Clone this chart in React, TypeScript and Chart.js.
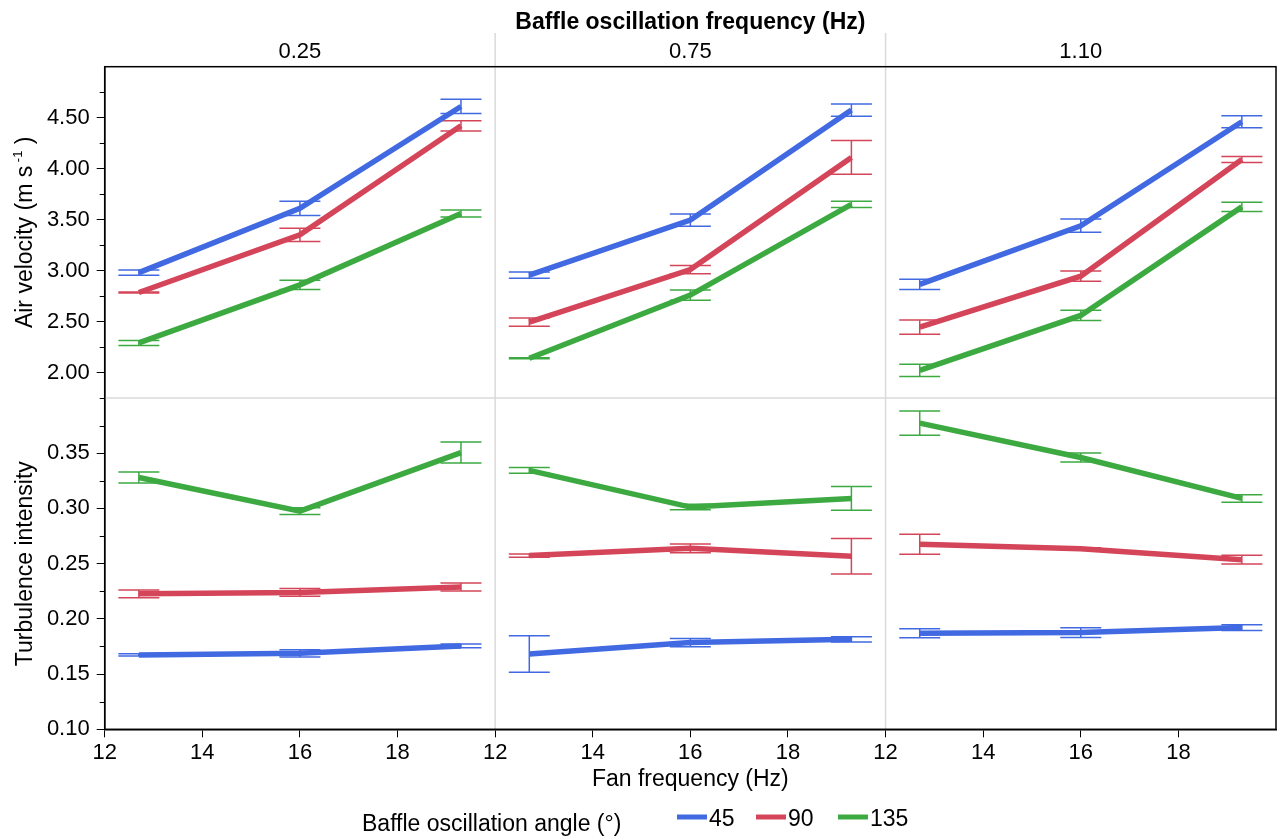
import React, { useEffect, useRef } from 'react';
import { Chart, registerables } from 'chart.js';

Chart.register(...registerables);

// ---------------- data ----------------
const FAN_FREQUENCY = [12.7, 16.0, 19.3];
const BAFFLE_FREQUENCIES = ['0.25', '0.75', '1.10'];
const ANGLES = ['45', '90', '135'];
const X_TICK_LABELS = ['12', '14', '16', '18'];

// rows: angle 45, 90, 135 ; columns: fan frequency 12.7, 16, 19.3
const VELOCITY_025 = [[2.98, 3.61, 4.61], [2.785, 3.35, 4.42], [2.29, 2.86, 3.56]];
const VELOCITY_025_ERR = [[0.025, 0.07, 0.07], [0.005, 0.065, 0.05], [0.025, 0.045, 0.035]];
const VELOCITY_075 = [[2.955, 3.495, 4.575], [2.495, 3.01, 4.11], [2.14, 2.76, 3.65]];
const VELOCITY_075_ERR = [[0.03, 0.06, 0.06], [0.04, 0.04, 0.165], [0.005, 0.05, 0.03]];
const VELOCITY_110 = [[2.865, 3.44, 4.46], [2.445, 2.945, 4.09], [2.02, 2.56, 3.625]];
const VELOCITY_110_ERR = [[0.05, 0.065, 0.06], [0.07, 0.05, 0.03], [0.06, 0.05, 0.045]];

const TURBULENCE_025 = [[0.1673, 0.1688, 0.1755], [0.2227, 0.2239, 0.2288], [0.328, 0.2976, 0.3506]];
const TURBULENCE_025_ERR = [[0.001, 0.0033, 0.0017], [0.0035, 0.0035, 0.0036], [0.005, 0.003, 0.0095]];
const TURBULENCE_075 = [[0.1682, 0.1785, 0.1815], [0.2573, 0.2639, 0.2567], [0.3345, 0.3012, 0.3091]];
const TURBULENCE_075_ERR = [[0.0165, 0.0038, 0.0024], [0.0015, 0.004, 0.016], [0.0026, 0.0025, 0.0107]];
const TURBULENCE_110 = [[0.187, 0.1876, 0.1921], [0.2676, 0.2634, 0.2536], [0.3773, 0.3461, 0.3091]];
const TURBULENCE_110_ERR = [[0.004, 0.0044, 0.0026], [0.009, 0.001, 0.004], [0.011, 0.004, 0.0034]];

// ---------------- styling ----------------
const COLORS = ['#4169E1', '#D4455A', '#3DAA41'];
const FONT = "'Liberation Sans', Arial, sans-serif";
const PANEL_MIN = 12;
const PANEL_SPAN = 8;

const PANELS = [
  { vel: VELOCITY_025, velErr: VELOCITY_025_ERR, ti: TURBULENCE_025, tiErr: TURBULENCE_025_ERR },
  { vel: VELOCITY_075, velErr: VELOCITY_075_ERR, ti: TURBULENCE_075, tiErr: TURBULENCE_075_ERR },
  { vel: VELOCITY_110, velErr: VELOCITY_110_ERR, ti: TURBULENCE_110, tiErr: TURBULENCE_110_ERR },
];

function buildDatasets() {
  const out: any[] = [];
  PANELS.forEach((p, pi) => {
    ANGLES.forEach((a, ai) => {
      const common = {
        label: a,
        borderColor: COLORS[ai],
        backgroundColor: COLORS[ai],
        borderWidth: 5.5,
        pointRadius: 0,
        pointHoverRadius: 0,
        fill: false,
        tension: 0,
        xAxisID: 'x',
      };
      out.push({
        ...common,
        yAxisID: 'yTop',
        data: FAN_FREQUENCY.map((f, i) => ({ x: f + pi * PANEL_SPAN, y: p.vel[ai][i] })),
        err: p.velErr[ai],
      });
      out.push({
        ...common,
        yAxisID: 'yBot',
        data: FAN_FREQUENCY.map((f, i) => ({ x: f + pi * PANEL_SPAN, y: p.ti[ai][i] })),
        err: p.tiErr[ai],
      });
    });
  });
  return out;
}

function line(ctx: CanvasRenderingContext2D, x1: number, y1: number, x2: number, y2: number) {
  ctx.beginPath();
  ctx.moveTo(x1, y1);
  ctx.lineTo(x2, y2);
  ctx.stroke();
}

const decorPlugin = {
  id: 'decor',
  beforeDatasetsDraw(chart: any) {
    const { ctx, chartArea: a, scales } = chart;
    const xs = scales.x;
    ctx.save();
    // panel separators
    ctx.strokeStyle = '#dadada';
    ctx.lineWidth = 1.5;
    for (let p = 1; p < BAFFLE_FREQUENCIES.length; p++) {
      const px = xs.getPixelForValue(PANEL_MIN + p * PANEL_SPAN);
      line(ctx, px, 33, px, a.bottom);
    }
    const sepY = scales.yTop.bottom;
    line(ctx, a.left, sepY, a.right, sepY);

    // error bars
    chart.data.datasets.forEach((ds: any, di: number) => {
      const meta = chart.getDatasetMeta(di);
      const ys = scales[ds.yAxisID];
      ctx.strokeStyle = ds.borderColor;
      ctx.lineWidth = 1.5;
      meta.data.forEach((el: any, i: number) => {
        const v = ds.data[i].y;
        const e = ds.err[i];
        const hi = ys.getPixelForValue(v + e);
        const lo = ys.getPixelForValue(v - e);
        ctx.beginPath();
        ctx.moveTo(el.x, hi);
        ctx.lineTo(el.x, lo);
        ctx.moveTo(el.x - 20.5, hi);
        ctx.lineTo(el.x + 20.5, hi);
        ctx.moveTo(el.x - 20.5, lo);
        ctx.lineTo(el.x + 20.5, lo);
        ctx.stroke();
      });
    });
    ctx.restore();
  },
  afterDraw(chart: any) {
    const { ctx, chartArea: a, scales } = chart;
    const xs = scales.x;
    ctx.save();
    // frame
    ctx.strokeStyle = '#000';
    ctx.lineWidth = 1.5;
    ctx.strokeRect(a.left, a.top, a.right - a.left, a.bottom - a.top);

    // minor ticks
    ctx.lineWidth = 1;
    const minor = (scale: any, from: number, to: number, step: number) => {
      for (let v = from; v <= to + 1e-9; v += step) {
        const py = Math.round(scale.getPixelForValue(v)) + 0.5;
        line(ctx, a.left - 5, py, a.left, py);
      }
    };
    minor(scales.yTop, 1.75, 4.75, 0.5);
    minor(scales.yBot, 0.125, 0.375, 0.05);

    ctx.fillStyle = '#000';
    // overall title
    ctx.font = `bold 23px ${FONT}`;
    ctx.textAlign = 'center';
    ctx.textBaseline = 'alphabetic';
    const cx = (a.left + a.right) / 2;
    ctx.fillText('Baffle oscillation frequency (Hz)', cx, 29);

    // panel headers
    ctx.font = `22px ${FONT}`;
    BAFFLE_FREQUENCIES.forEach((b, p) => {
      const l = xs.getPixelForValue(PANEL_MIN + p * PANEL_SPAN);
      const r = xs.getPixelForValue(PANEL_MIN + (p + 1) * PANEL_SPAN);
      ctx.fillText(b, (l + r) / 2, 58);
    });

    // x axis title
    ctx.font = `23px ${FONT}`;
    ctx.fillText('Fan frequency (Hz)', cx, 786);

    // y axis titles
    const drawRot = (cy: number, parts: { t: string; size: number; dy: number }[]) => {
      ctx.save();
      ctx.translate(32, cy);
      ctx.rotate(-Math.PI / 2);
      ctx.textAlign = 'left';
      let total = 0;
      parts.forEach((p) => {
        ctx.font = `${p.size}px ${FONT}`;
        total += ctx.measureText(p.t).width;
      });
      let x0 = -total / 2;
      parts.forEach((p) => {
        ctx.font = `${p.size}px ${FONT}`;
        ctx.fillText(p.t, x0, p.dy);
        x0 += ctx.measureText(p.t).width;
      });
      ctx.restore();
    };
    const yt = scales.yTop;
    const yb = scales.yBot;
    drawRot((yt.top + yt.bottom) / 2, [
      { t: 'Air velocity (m s', size: 23, dy: 0 },
      { t: ' -1', size: 13, dy: -10 },
      { t: ' )', size: 23, dy: 0 },
    ]);
    drawRot((yb.top + yb.bottom) / 2, [{ t: 'Turbulence intensity', size: 23, dy: 0 }]);

    // legend
    ctx.textAlign = 'left';
    ctx.font = `23px ${FONT}`;
    ctx.fillText('Baffle oscillation angle (°)', 362, 831);
    const swX = [677, 756, 838];
    ANGLES.forEach((lab, i) => {
      ctx.strokeStyle = COLORS[i];
      ctx.lineWidth = 5;
      line(ctx, swX[i], 817, swX[i] + 30, 817);
      ctx.fillStyle = '#000';
      ctx.font = `23px ${FONT}`;
      ctx.fillText(lab, swX[i] + 32, 826);
    });
    ctx.restore();
  },
};

function yAxis(min: number, max: number, step: number, maxLabel: number, decimals: number) {
  return {
    type: 'linear',
    position: 'left',
    stack: 'rows',
    stackWeight: 1,
    min,
    max,
    afterFit(scale: any) {
      scale.width = 104.7;
    },
    afterBuildTicks(scale: any) {
      scale.ticks = scale.ticks.filter((t: any) => t.value <= maxLabel + 1e-9);
    },
    ticks: {
      stepSize: step,
      includeBounds: false,
      padding: 7,
      color: '#000',
      font: { size: 22, family: FONT },
      callback: (v: number) => Number(v).toFixed(decimals),
    },
    grid: { drawOnChartArea: false, tickLength: 8, tickColor: '#000', tickWidth: 1 },
    border: { color: '#000', width: 1.5 },
  };
}

export default function App() {
  const ref = useRef<HTMLCanvasElement>(null);
  useEffect(() => {
    const chart = new Chart(ref.current as HTMLCanvasElement, {
      type: 'line',
      data: { datasets: buildDatasets() } as any,
      options: {
        responsive: false,
        animation: false,
        events: [],
        layout: { padding: { top: 66.7, right: 11, bottom: 67.7, left: 0 } },
        plugins: { legend: { display: false }, tooltip: { enabled: false }, title: { display: false } },
        scales: {
          x: {
            type: 'linear',
            min: PANEL_MIN,
            max: PANEL_MIN + PANEL_SPAN * BAFFLE_FREQUENCIES.length,
            afterFit(scale: any) {
              scale.height = 40;
            },
            afterBuildTicks(scale: any) {
              scale.ticks = scale.ticks.filter(
                (t: any) => t.value < PANEL_MIN + PANEL_SPAN * BAFFLE_FREQUENCIES.length - 1e-9
              );
            },
            ticks: {
              stepSize: 2,
              autoSkip: false,
              maxRotation: 0,
              padding: 2,
              color: '#000',
              font: { size: 22, family: FONT },
              callback: (v: number) => X_TICK_LABELS[Math.round(((v - PANEL_MIN) % PANEL_SPAN) / 2)],
            },
            grid: { drawOnChartArea: false, tickLength: 8, tickColor: '#000', tickWidth: 1 },
            border: { color: '#000', width: 1.5 },
          },
          // stacked: the first defined is placed at the bottom
          yBot: yAxis(0.1, 0.4, 0.05, 0.35, 2),
          yTop: yAxis(1.75, 5.0, 0.5, 4.5, 2),
        } as any,
      },
      plugins: [decorPlugin],
    } as any);
    return () => chart.destroy();
  }, []);
  return (
    <div style={{ position: 'fixed', left: 0, top: 0, width: 1287, height: 837, background: '#fff' }}>
      <canvas ref={ref} width={1287} height={837} style={{ display: 'block' }} />
    </div>
  );
}
